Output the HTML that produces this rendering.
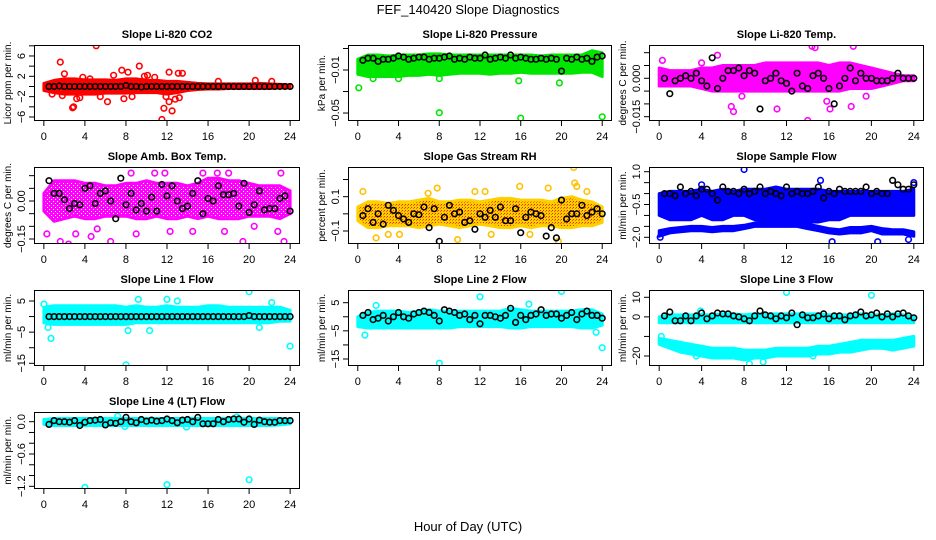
<!DOCTYPE html>
<html><head><meta charset="utf-8">
<style>
html,body{margin:0;padding:0;background:#fff;}
svg{display:block;font-family:"Liberation Sans",Arial,sans-serif;}
</style></head>
<body>
<svg id="fig" width="936" height="540" viewBox="0 0 936 540">
<rect width="936" height="540" fill="#fff"/>
<text x="468" y="14" font-size="13" text-anchor="middle">FEF_140420  Slope Diagnostics</text>
<text x="468" y="531" font-size="13" text-anchor="middle">Hour of Day (UTC)</text>
</svg>
<script>
// shared hour grids
const bandHours = [0,1,2,3,4,5,6,7,8,9,10,11,12,13,14,15,16,17,18,19,20,21,22,23,24];
const blackHours = [0.5,1,1.5,2,2.5,3,3.5,4,4.5,5,5.5,6,6.5,7,7.5,8,8.5,9,9.5,10,10.5,11,11.5,12,12.5,13,13.5,14,14.5,15,15.5,16,16.5,17,17.5,18,18.5,19,19.5,20,20.5,21,21.5,22,22.5,23,23.5,24];
const xTicks = [0,4,8,12,16,20,24];

// CO2
const co2Lo = [-0.8,-1.2,-1.5,-1.5,-1.5,-1.5,-1.3,-1.3,-1.3,-1.2,-1.2,-1.2,-1.5,-1.2,-0.8,-0.6,-0.5,-0.5,-0.4,-0.4,-0.4,-0.4,-0.4,-0.3,-0.3];
const co2Hi = [0.6,1.2,1.5,1.5,1.3,1.3,1.3,1.2,1.5,1.5,1.2,1.2,1.0,1.0,0.8,0.6,0.5,0.5,0.5,0.5,0.5,0.6,0.5,0.4,0.3];
const co2Out = [[1.6,4.8],[2,2.5],[2.8,-4.2],[2.9,-4],[3.2,-2.4],[3.5,-2.2],[3.8,1.8],[5.1,8],[5.5,-2],[6.2,-3],[6.8,2.2],[7.6,3.2],[7.8,-2.4],[8.2,2.8],[8.6,-2],[9.3,4],[9.8,2],[10.1,2.2],[10.8,1.8],[11.5,-6.5],[11.7,-4.3],[11.9,-2],[12.2,-3],[12.2,2.8],[12.5,-4.8],[12.8,-2.5],[13.2,-2.2],[13.1,2.6],[13.5,2.6],[0.8,-1.5],[1.8,-1.8],[4.5,1.5],[20.6,1.2],[22.2,1],[17,1]];
const co2Black = [0,0,0.1,0,0,0,0,0,0,0,0,0,0,0,0,0.2,0,0,-0.1,0,0,0,0,0,0,0,0,0,0,0,0,0,0,0,0,0,0,0,0,0,0,0,0,0,0,0,0,0];
// Pressure
const presLo = [-0.014,-0.016,-0.016,-0.016,-0.016,-0.015,-0.015,-0.014,-0.015,-0.014,-0.013,-0.013,-0.013,-0.014,-0.013,-0.013,-0.012,-0.013,-0.013,-0.013,-0.013,-0.013,-0.012,-0.012,-0.016];
const presHi = [0.000,0.004,0.004,0.003,0.004,0.004,0.004,0.005,0.005,0.004,0.004,0.004,0.004,0.004,0.004,0.004,0.004,0.004,0.003,0.004,0.004,0.004,0.004,0.008,0.006];
const presOut = [[0.1,-0.0265],[8,-0.0497],[16,-0.0547],[24,-0.0535],[8,-0.018],[15.8,-0.02],[19.8,-0.022],[4,-0.018],[1.5,-0.018]];
const presBlack = [-0.001,0.001,0.001,-0.002,0.000,0.000,0.001,0.003,0.002,0.000,0.001,0.002,0.002,0.000,0.001,0.001,0.002,0.003,0.000,0.001,0.000,0.002,0.001,0.001,0.004,0.000,0.001,0.002,0.001,0.004,0.001,0.002,0.001,0.000,0.000,0.001,0.000,0.001,0.000,-0.011,0.001,0.000,0.002,0.000,0.001,-0.002,0.002,0.003];
// Li-820 Temp
const ltLo = [-0.003,-0.003,-0.003,-0.003,-0.004,-0.005,-0.005,-0.005,-0.005,-0.005,-0.005,-0.005,-0.005,-0.005,-0.005,-0.005,-0.005,-0.005,-0.004,-0.004,-0.004,-0.003,-0.002,-0.001,-0.001];
const ltHi = [0.004,0.003,0.003,0.003,0.004,0.004,0.005,0.005,0.005,0.005,0.006,0.006,0.006,0.006,0.006,0.006,0.005,0.006,0.006,0.005,0.004,0.003,0.002,0.001,0.001];
const ltOut = [[7,-0.013],[6.8,-0.011],[11.1,-0.012],[14,-0.0165],[14.4,0.0125],[14.7,0.012],[18.3,0.0125],[18.2,0.0145],[18.1,-0.011],[16.1,-0.012],[15.8,-0.009],[4,0.006],[5.5,0.009],[0.3,0.007],[7.8,-0.007],[19.5,-0.007]];
const ltBlack = [0.000,-0.006,-0.001,0.000,0.001,0.000,0.002,-0.001,-0.003,0.008,-0.004,0.000,0.003,0.003,0.004,0.001,0.003,0.002,-0.012,-0.001,0.000,0.002,-0.001,-0.002,-0.005,0.002,-0.003,-0.004,0.001,0.002,0.000,-0.004,-0.010,-0.003,0.000,0.004,-0.001,0.002,0.000,0.000,-0.001,-0.001,-0.001,0.000,0.002,0.000,0.000,0.000];
// Amb Box Temp
const abLo = [-0.04,-0.08,-0.07,-0.06,-0.07,-0.07,-0.06,-0.06,-0.06,-0.07,-0.07,-0.06,-0.07,-0.07,-0.06,-0.07,-0.06,-0.07,-0.07,-0.07,-0.06,-0.06,-0.06,-0.07,-0.05];
const abHi = [0.03,0.08,0.08,0.08,0.07,0.07,0.06,0.06,0.07,0.07,0.08,0.07,0.07,0.07,0.06,0.07,0.09,0.09,0.08,0.08,0.07,0.06,0.06,0.06,0.04];
const abOut = [[0.3,-0.13],[1.0,0.15],[1.6,-0.16],[2.4,-0.17],[3.0,0.15],[3.1,-0.13],[4.6,-0.14],[6.5,-0.16],[7.8,-0.18],[9.0,-0.13],[10.8,0.11],[13.3,-0.19],[15.5,0.11],[16.9,0.11],[17.6,-0.12],[19.4,-0.16],[21.3,-0.18],[22.8,-0.12],[23.4,-0.16],[23.1,0.11],[8.5,0.11],[12.3,-0.12],[5.2,-0.11],[11.8,0.11],[18.0,0.11],[20.5,-0.1],[14.5,-0.12]];
const abBlack = [0.08,0.03,0.03,0.005,-0.03,-0.01,-0.015,0.05,0.06,-0.01,0.03,0.04,0.00,-0.07,0.09,-0.015,0.03,-0.035,-0.01,-0.04,0.015,-0.04,0.065,0.02,0.06,0.00,-0.03,-0.02,0.03,0.08,-0.05,0.01,0.00,0.06,0.025,0.025,0.03,-0.02,0.07,-0.045,-0.015,0.04,-0.035,-0.03,-0.03,0.01,0.02,-0.04];
// Gas stream RH
const rhLo = [-0.04,-0.08,-0.08,-0.07,-0.07,-0.07,-0.08,-0.07,-0.06,-0.07,-0.08,-0.07,-0.06,-0.07,-0.08,-0.08,-0.07,-0.08,-0.07,-0.07,-0.08,-0.08,-0.07,-0.07,-0.05];
const rhHi = [0.04,0.07,0.07,0.06,0.07,0.07,0.08,0.09,0.07,0.07,0.08,0.08,0.07,0.08,0.09,0.09,0.08,0.08,0.08,0.07,0.09,0.1,0.08,0.07,0.04];
const rhOut = [[0.5,0.13],[21.2,0.27],[21.3,0.18],[21.5,0.16],[19.7,-0.16],[22.5,0.13],[15.9,0.16],[18.7,0.15],[11.5,0.13],[7.8,0.15],[6.9,0.12],[13.1,-0.12],[9.8,-0.15],[4.1,-0.12],[16.9,-0.12],[12.5,0.13],[3.0,-0.12],[1.8,-0.14]];
const rhBlack = [-0.01,0.03,-0.05,0.0,-0.06,0.05,0.02,-0.01,-0.03,-0.05,0.0,-0.005,0.04,-0.08,0.03,-0.16,-0.02,0.05,0.0,0.01,-0.05,-0.04,-0.09,0.0,-0.02,0.02,-0.02,0.04,-0.04,-0.04,0.03,-0.11,-0.02,0.01,0.0,-0.01,-0.13,-0.08,-0.14,0.08,-0.03,0.0,0.0,0.05,-0.01,0.01,0.03,0.0];
// Sample flow
const sfLo = [-1.0,-1.2,-1.2,-1.2,-1.0,-1.2,-1.2,-1.0,-1.0,-1.2,-1.3,-1.3,-1.3,-1.3,-1.3,-1.3,-1.2,-1.2,-1.0,-1.0,-1.0,-1.0,-1.0,-1.0,-1.0];
const sfHi = [0.0,0.1,0.1,0.1,0.2,0.1,0.2,0.1,0.2,0.2,0.2,0.3,0.2,0.2,0.2,0.2,0.1,0.1,0.1,0.1,0.1,0.1,0.1,0.1,0.2];
const sfLo2 = [-1.95,-1.8,-1.75,-1.7,-1.7,-1.75,-1.7,-1.7,-1.6,-1.5,-1.5,-1.5,-1.5,-1.5,-1.6,-1.7,-1.8,-1.85,-1.8,-1.8,-1.7,-1.85,-1.85,-1.85,-1.95];
const sfHi2 = [-1.7,-1.6,-1.55,-1.5,-1.5,-1.55,-1.5,-1.5,-1.45,-1.35,-1.35,-1.35,-1.35,-1.35,-1.4,-1.5,-1.6,-1.65,-1.55,-1.55,-1.5,-1.6,-1.65,-1.65,-1.75];
const sfOut = [[8,1.1],[15.2,0.6],[16.3,-2.2],[20.6,-2.2],[24,0.5],[23.5,-2.1],[4,0.4],[0.1,-2.0]];
const sfBlack = [0.0,0.0,-0.1,0.3,0.0,0.1,-0.1,0.2,0.2,0.0,-0.3,0.3,0.1,0.1,0.0,0.2,0.0,0.1,0.3,0.0,0.1,0.0,-0.1,0.3,0.0,0.1,0.0,0.0,0.1,0.3,-0.2,0.1,0.0,0.2,0.1,0.1,0.1,0.1,0.3,0.0,0.1,0.0,0.0,0.6,0.4,0.2,0.2,0.4];
// Line 1
const l1Lo = [-2,-2.5,-2.5,-2.5,-2.5,-2.5,-2.5,-2.5,-2.5,-2,-2,-2,-2,-2,-2,-2,-2,-2,-2,-2,-2,-2,-2,-1.5,-1.5];
const l1Hi = [3,3.5,3.5,3.5,3.5,3.5,3.5,3.5,3,3.5,3,3,3.5,3,3,3,3.5,3.5,3,3,3,3,3,3,2];
const l1Out = [[8,-15.5],[24,-9.5],[20,8],[0.7,-7],[0.4,-3.5],[9.2,5.5],[12,5.5],[13,5],[8.2,-4.5],[10.3,-4.5],[21,-3.5],[22.2,4.5],[0,4]];
const l1Black = [0,0,0,0,0,0,0,0,0,0,0,0,0,0,0,0,0,0,0,0,0,0,0,0,0,0,0,0,0,0,0,0,0,0,0,0,0,0,0,0.3,0,0,0,0,0,0,0,0];
// Line 2
const l2Lo = [-3.5,-4,-4,-4,-4,-4,-4,-4,-4,-4,-3.5,-3.5,-3.5,-3.5,-3.5,-4,-4,-3.5,-3.5,-3.5,-3.5,-3.5,-4,-4,-3];
const l2Hi = [0,1.5,2,2,2,1.5,2,2.5,2,2,2,2,2,2,2,3,2.5,2,2,2,2,2,2.5,2.5,1];
const l2Out = [[8,-16.5],[24,-11],[20,9],[12,7.1],[0.7,-6.5],[23.4,-5.5],[16.8,4.5],[1.8,4]];
const l2Black = [0.5,1.5,-1.0,-0.5,0.5,-1.5,0.0,1.5,0.0,-0.5,1.0,1.5,2.0,1.5,0.5,-1.5,2.5,2.0,1.5,0.5,1.0,-1.0,0.5,-2.5,0.5,0.5,0.0,-0.5,0.5,3.0,-2.0,0.5,-1.0,0.5,1.0,2.5,0.5,1.0,1.0,-0.5,0.5,1.5,-1.0,1.0,2.0,0.5,0.5,-0.5];
// Line 3
const l3Lo = [-3,-3,-3,-3,-3,-3,-3,-3,-3,-3,-3,-3,-3,-3,-3,-3,-3,-3,-3,-3,-3,-3,-3,-3,-3];
const l3Hi = [0,1,1,1,1,1,1.5,1.5,1,1.5,1.5,1.5,1.5,1.5,1.5,1.5,1,1,1,1.5,1,1,1.5,1,0];
const l3Lo2 = [-14,-16,-18,-19,-20,-21,-21,-21,-22,-21,-21,-20,-20,-20,-20,-19,-19,-18,-18,-17,-16,-16,-17,-16,-15];
const l3Hi2 = [-11,-12,-13,-14,-15,-16,-16,-16,-17,-17,-17,-16,-16,-16,-16,-15,-15,-14,-13,-12,-12,-12,-12,-11,-10];
const l3Out = [[12,12.5],[20,11],[8.5,-24],[9.8,-23],[3.5,-20],[14.5,-20],[3.9,3],[0.2,-10]];
const l3Black = [0.5,2.5,-2.0,-2.0,0.5,-2.0,0.5,2.0,-1.0,0.5,2.0,1.5,1.5,0.5,0.0,-1.0,-2.0,0.5,3.0,1.0,0.5,-1.0,0.5,-0.5,2.0,-4.0,1.0,-0.5,-0.5,0.5,1.5,-1.0,0.5,0.5,-1.5,0.5,1.0,2.5,0.5,1.0,2.0,0.0,1.5,0.0,1.5,2.0,0.5,-0.5];
// Line 4
const l4Lo = [-0.05,-0.07,-0.07,-0.07,-0.07,-0.07,-0.07,-0.07,-0.07,-0.07,-0.07,-0.07,-0.07,-0.07,-0.07,-0.07,-0.07,-0.07,-0.07,-0.07,-0.07,-0.07,-0.07,-0.06,-0.04];
const l4Hi = [0.04,0.06,0.06,0.06,0.06,0.06,0.06,0.06,0.06,0.06,0.06,0.06,0.06,0.06,0.06,0.06,0.06,0.06,0.06,0.06,0.06,0.06,0.06,0.06,0.04];
const l4Out = [[4,-1.22],[12,-1.17],[20,-1.08],[13.9,-0.1],[7.9,-0.09],[18.8,0.09],[7.2,0.1]];
const l4Black = [-0.05,0.02,0.00,0.00,-0.01,0.02,-0.07,-0.01,0.02,0.03,0.04,-0.06,-0.02,-0.03,0.00,0.08,0.00,-0.02,0.04,0.01,0.03,0.01,0.02,0.05,0.02,-0.02,0.03,0.04,0.00,0.08,-0.04,-0.04,-0.04,0.04,0.00,0.04,0.05,0.05,-0.01,0.05,-0.05,0.03,0.00,-0.01,-0.01,0.02,0.02,0.02];

// tick values / labels
const co2Ticks = [-6,-4,-2,0,2,4,6,8], co2Labels = [-6,-2,2,6];
const presTicks = [0.01,-0.01,-0.03,-0.05], presLabels = [-0.01,-0.05];
const ltTicks = [0.010,0.005,0.000,-0.005,-0.010,-0.015], ltLabels = [0.000,-0.015];
const abTicks = [0.10,0.05,0.00,-0.05,-0.10,-0.15], abLabels = [0.00,-0.15];
const rhTicks = [0.2,0.1,0,-0.1], rhLabels = [0.1,-0.1];
const sfTicks = [1.0,0.5,0,-0.5,-1.0,-1.5,-2.0], sfLabels = [1.0,-0.5,-2.0];
const l1Ticks = [5,0,-5,-10,-15], l1Labels = [5,-5,-15];
const l2Ticks = [5,0,-5,-10,-15], l2Labels = [5,-5,-15];
const l3Ticks = [10,0,-10,-20], l3Labels = [10,0,-20];
const l4Ticks = [0,-0.2,-0.4,-0.6,-0.8,-1.0,-1.2], l4Labels = [0.0,-0.6,-1.2];

const NS = "http://www.w3.org/2000/svg";
const svg = document.getElementById('fig');
const colX = [[34,300],[348,612],[649,924]];
const rowY = [[45,121],[167,244],[290,366],[412,489]];

function mk(tag, attrs, parent){
  const e = document.createElementNS(NS, tag);
  for (const k in attrs) e.setAttribute(k, attrs[k]);
  (parent||svg).appendChild(e);
  return e;
}
function fmt(v, dec){ return v.toFixed(dec); }

const panels = [
 {key:'co2', title:'Slope Li-820 CO2', ylab:'Licor ppm per min.', c:0, r:0, dom:[-6.79,8.16], color:'#ff0000', bands:[[co2Lo,co2Hi]], out:co2Out, black:co2Black, ticks:co2Ticks, labels:co2Labels, dec:0},
 {key:'pressure', title:'Slope Li-820 Pressure', ylab:'kPa per min.', c:1, r:0, dom:[-0.0574,0.01326], color:'#00e600', bands:[[presLo,presHi]], out:presOut, black:presBlack, ticks:presTicks, labels:presLabels, dec:2},
 {key:'li820-temp', title:'Slope Li-820 Temp.', ylab:'degrees C per min.', c:2, r:0, dom:[-0.01668,0.0130], color:'#ff00ff', bands:[[ltLo,ltHi]], out:ltOut, black:ltBlack, ticks:ltTicks, labels:ltLabels, dec:3},
 {key:'amb-box-temp', title:'Slope Amb. Box Temp.', ylab:'degrees C per min.', c:0, r:1, dom:[-0.1697,0.1342], color:'#ff00ff', bands:[[abLo,abHi]], out:abOut, black:abBlack, ticks:abTicks, labels:abLabels, dec:2, sparse:true},
 {key:'gas-rh', title:'Slope Gas Stream RH', ylab:'percent per min.', c:1, r:1, dom:[-0.1758,0.273], color:'#ffb000', bands:[[rhLo,rhHi]], out:rhOut, black:rhBlack, ticks:rhTicks, labels:rhLabels, dec:1, rh:true},
 {key:'sample-flow', title:'Slope Sample Flow', ylab:'ml/min per min.', c:2, r:1, dom:[-2.306,1.215], color:'#0000ff', bands:[[sfLo,sfHi],[sfLo2,sfHi2]], out:sfOut, black:sfBlack, ticks:sfTicks, labels:sfLabels, dec:1},
 {key:'line1-flow', title:'Slope Line 1 Flow', ylab:'ml/min per min.', c:0, r:2, dom:[-15.87,8.53], color:'#00ffff', bands:[[l1Lo,l1Hi]], out:l1Out, black:l1Black, ticks:l1Ticks, labels:l1Labels, dec:0},
 {key:'line2-flow', title:'Slope Line 2 Flow', ylab:'ml/min per min.', c:1, r:2, dom:[-17.49,9.51], color:'#00ffff', bands:[[l2Lo,l2Hi]], out:l2Out, black:l2Black, ticks:l2Ticks, labels:l2Labels, dec:0},
 {key:'line3-flow', title:'Slope Line 3 Flow', ylab:'ml/min per min.', c:2, r:2, dom:[-25.11,13.73], color:'#00ffff', bands:[[l3Lo,l3Hi],[l3Lo2,l3Hi2]], out:l3Out, black:l3Black, ticks:l3Ticks, labels:l3Labels, dec:0},
 {key:'line4-flow', title:'Slope Line 4 (LT) Flow', ylab:'ml/min per min.', c:0, r:3, dom:[-1.250,0.180], color:'#00ffff', bands:[[l4Lo,l4Hi]], out:l4Out, black:l4Black, ticks:l4Ticks, labels:l4Labels, dec:1}
];

const defs = mk('defs', {});
const pat = mk('pattern', {id:'rhpat', width:3, height:3, patternUnits:'userSpaceOnUse'}, defs);
mk('rect', {width:3, height:3, fill:'#ffd000'}, pat);
mk('rect', {x:0, y:0, width:1, height:1, fill:'#ff2000'}, pat);
mk('rect', {x:2, y:1, width:1, height:1, fill:'#ff6000'}, pat);
const pat2 = mk('pattern', {id:'sparsepat', width:4, height:4, patternUnits:'userSpaceOnUse'}, defs);
mk('rect', {width:4, height:4, fill:'#ff00ff'}, pat2);
mk('rect', {x:1, y:1, width:1, height:1, fill:'#ffffff'}, pat2);
mk('rect', {x:3, y:3, width:1, height:1, fill:'#ffffff'}, pat2);

panels.forEach(p => {
  const [x0,x1] = colX[p.c], [y0,y1] = rowY[p.r];
  const xs = t => x0 + (t + 0.96) / 25.92 * (x1 - x0);
  const ys = v => y1 - (v - p.dom[0]) / (p.dom[1] - p.dom[0]) * (y1 - y0);
  const g = mk('g', {});
  
  

  const clipId = 'clip-' + p.key;
  const cp = mk('clipPath', {id:clipId}, defs);
  mk('rect', {x:x0, y:y0, width:x1-x0, height:y1-y0}, cp);
  const pg = mk('g', {'clip-path':'url(#'+clipId+')'}, g);

  p.bands.forEach((b, bi) => {
    const [lo, hi] = b;
    let d = '';
    bandHours.forEach((t,i)=>{ d += (i?'L':'M') + xs(t).toFixed(1) + ' ' + ys(hi[i]).toFixed(1); });
    for (let i = bandHours.length-1; i >= 0; i--) d += 'L' + xs(bandHours[i]).toFixed(1) + ' ' + ys(lo[i]).toFixed(1);
    d += 'Z';
    const fill = p.rh ? 'url(#rhpat)' : (p.sparse ? 'url(#sparsepat)' : p.color);
    const path = mk('path', {d:d, fill: fill, stroke: p.rh ? '#ffd000' : p.color, 'stroke-width':3, 'stroke-linejoin':'round'}, pg);
    
    
  });
  p.out.forEach(pt => {
    const c = mk('circle', {cx:xs(pt[0]).toFixed(1), cy:ys(pt[1]).toFixed(1), r:2.8, fill:'none', stroke: p.rh ? '#ffc000' : p.color, 'stroke-width':1.6}, pg);
    
    
  });
  p.black.forEach((v,i) => {
    const c = mk('circle', {cx:xs(blackHours[i]).toFixed(1), cy:ys(v).toFixed(1), r:2.8, fill:'none', stroke:'#000', 'stroke-width':1.6}, pg);
    
    
  });

  const fr = mk('rect', {x:x0+0.5, y:y0+0.5, width:x1-x0-1, height:y1-y0-1, fill:'none', stroke:'#000', 'stroke-width':1}, g);
  
  

  xTicks.forEach(t => {
    const x = xs(t);
    mk('line', {x1:x, x2:x, y1:y1, y2:y1+5, stroke:'#000'}, g);
    const tx = mk('text', {x:x, y:y1+19, 'font-size':11, 'text-anchor':'middle'}, g);
    tx.textContent = t;
    
    
  });
  p.ticks.forEach(v => {
    const y = ys(v);
    mk('line', {x1:x0-5, x2:x0, y1:y, y2:y, stroke:'#000'}, g);
  });
  p.labels.forEach(v => {
    const y = ys(v);
    const tx = mk('text', {x:0, y:0, 'font-size':11, 'text-anchor':'middle', transform:'translate('+(x0-9)+','+y.toFixed(1)+') rotate(-90)'}, g);
    tx.textContent = fmt(v, p.dec).replace('-', '\u2212');
    
    
  });
  const yl = mk('text', {x:0, y:0, 'font-size':10, 'text-anchor':'middle', transform:'translate('+(x0-23)+','+((y0+y1)/2)+') rotate(-90)'}, g);
  yl.textContent = p.ylab;
  
  
  const tt = mk('text', {x:(x0+x1)/2, y:y0-7, 'font-size':11, 'font-weight':'bold', 'text-anchor':'middle'}, g);
  tt.textContent = p.title;
  
  
});
</script>
</body></html>
